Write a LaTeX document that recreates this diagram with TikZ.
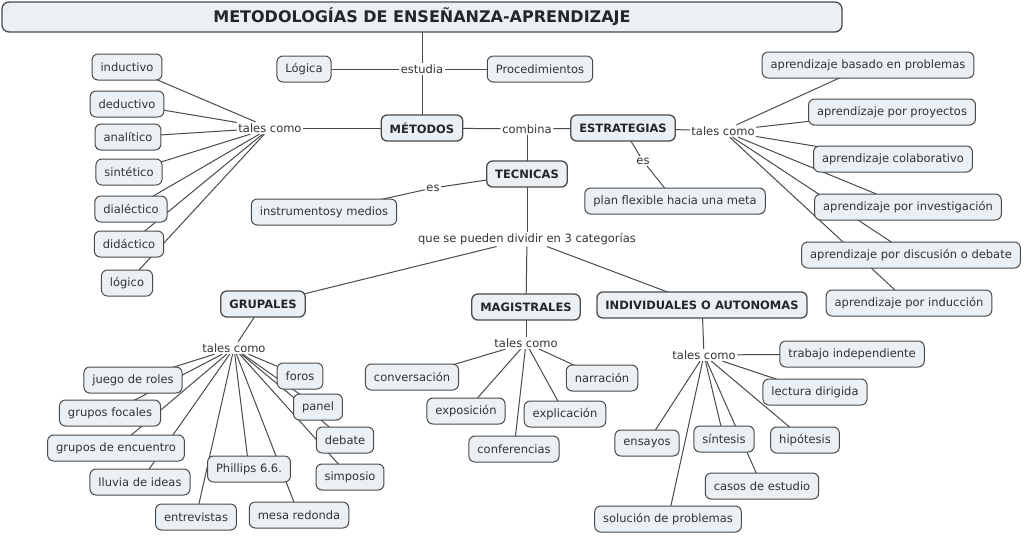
\documentclass[tikz,border=0pt]{standalone}
\usepackage{fontspec}
\setmainfont{DejaVu Sans}
\usetikzlibrary{backgrounds}
\definecolor{nfill}{HTML}{EAF0F4}
\definecolor{nline}{HTML}{4A4A4A}
\definecolor{ntext}{HTML}{333333}
\begin{document}
\begin{tikzpicture}[x=1pt,y=-1pt,
  cpt/.style={draw=nline, fill=nfill, rounded corners=6pt, line width=1pt,
    font=\fontsize{11.5}{13}\selectfont, text=ntext, minimum height=26pt,
    inner xsep=8.5pt, inner ysep=2pt},
  cptb/.style={cpt, font=\fontsize{11.5}{13}\selectfont\bfseries, line width=1.3pt, text=black!85},
  lp/.style={font=\fontsize{11.5}{13}\selectfont, text=ntext, inner sep=1.5pt},
  ln/.style={draw=nline, line width=1pt}]
\useasboundingbox (0,0) rectangle (1024,536);

% ---------- concepts ----------
\node[cptb, minimum width=840pt, minimum height=30pt, rounded corners=7pt,
  font=\fontsize{16}{19}\selectfont\bfseries] (title) at (422,17) {METODOLOGÍAS DE ENSEÑANZA-APRENDIZAJE};
\node[cpt] (logica) at (304,69) {Lógica};
\node[cpt] (proced) at (540,69) {Procedimientos};
\node[cptb] (metodos) at (422,128) {MÉTODOS};
\node[cptb] (estrat) at (623,128) {ESTRATEGIAS};
\node[cptb] (tecnicas) at (527,174) {TECNICAS};
\node[cpt] (instr) at (324,212) {instrumentosy medios};
\node[cpt] (plan) at (675,201) {plan flexible hacia una meta};
\node[cptb] (grupales) at (263,304) {GRUPALES};
\node[cptb] (magis) at (526,307) {MAGISTRALES};
\node[cptb] (indiv) at (702,305) {INDIVIDUALES O AUTONOMAS};

\node[cpt] (ind) at (127,67) {inductivo};
\node[cpt] (ded) at (127,104) {deductivo};
\node[cpt] (ana) at (128,137) {analítico};
\node[cpt] (sin) at (129,172) {sintético};
\node[cpt] (dial) at (131,209) {dialéctico};
\node[cpt] (dida) at (129,244) {didáctico};
\node[cpt] (logico) at (127,283) {lógico};

\node[cpt] (r1) at (868,65) {aprendizaje basado en problemas};
\node[cpt] (r2) at (892,112) {aprendizaje por proyectos};
\node[cpt] (r3) at (893,159) {aprendizaje colaborativo};
\node[cpt] (r4) at (908,207) {aprendizaje por investigación};
\node[cpt] (r5) at (911,255) {aprendizaje por discusión o debate};
\node[cpt] (r6) at (909,303) {aprendizaje por inducción};

\node[cpt] (g1) at (133,380) {juego de roles};
\node[cpt] (g2) at (110,413) {grupos focales};
\node[cpt] (g3) at (116,448) {grupos de encuentro};
\node[cpt] (g4) at (140,482) {lluvia de ideas};
\node[cpt] (g5) at (249,469) {Phillips 6.6.};
\node[cpt] (g6) at (196,517) {entrevistas};
\node[cpt] (g7) at (299,515) {mesa redonda};
\node[cpt] (g8) at (300,376) {foros};
\node[cpt] (g9) at (318,407) {panel};
\node[cpt] (g10) at (345,440) {debate};
\node[cpt] (g11) at (350,477) {simposio};

\node[cpt] (m1) at (412,377) {conversación};
\node[cpt] (m2) at (466,411) {exposición};
\node[cpt] (m3) at (514,449) {conferencias};
\node[cpt] (m4) at (565,414) {explicación};
\node[cpt] (m5) at (602,378) {narración};

\node[cpt] (i1) at (852,354) {trabajo independiente};
\node[cpt] (i2) at (815,392) {lectura dirigida};
\node[cpt] (i3) at (805,440) {hipótesis};
\node[cpt] (i4) at (724,439) {síntesis};
\node[cpt] (i5) at (762,486) {casos de estudio};
\node[cpt] (i6) at (647,443) {ensayos};
\node[cpt] (i7) at (668,519) {solución de problemas};

% ---------- linking phrases ----------
\node[lp] (estudia) at (422,69) {estudia};
\node[lp] (ltc) at (270,128) {tales como};
\node[lp] (combina) at (527,129) {combina};
\node[lp] (rtc) at (723,131) {tales como};
\node[lp] (es1) at (433,188) {es};
\node[lp] (es2) at (643,161) {es};
\node[lp] (que) at (527,239) {que se pueden dividir en 3 categorías};
\node[lp] (gtc) at (234,348) {tales como};
\node[lp] (mtc) at (526,343) {tales como};
\node[lp] (itc) at (704,355) {tales como};

% ---------- connectors ----------
\begin{pgfonlayer}{background}
\draw[ln] (title.center) -- (estudia) -- (metodos.center);
\draw[ln] (logica.center) -- (estudia) -- (proced.center);
\draw[ln] (metodos.center) -- (ltc);
\foreach \n in {ind,ded,ana,sin,dial,dida,logico} \draw[ln] (ltc) -- (\n.center);
\draw[ln] (metodos.center) -- (combina) -- (estrat.center);
\draw[ln] (combina) -- (tecnicas.center);
\draw[ln] (estrat.center) -- (rtc);
\foreach \n in {r1,r2,r3,r4,r5,r6} \draw[ln] (rtc) -- (\n.center);
\draw[ln] (tecnicas.center) -- (es1) -- (instr.center);
\draw[ln] (estrat.center) -- (es2) -- (plan.center);
\draw[ln] (tecnicas.center) -- (que);
\foreach \n in {grupales,magis,indiv} \draw[ln] (que) -- (\n.center);
\draw[ln] (grupales.center) -- (gtc);
\foreach \n in {g1,g2,g3,g4,g5,g6,g7,g8,g9,g10,g11} \draw[ln] (gtc) -- (\n.center);
\draw[ln] (magis.center) -- (mtc);
\foreach \n in {m1,m2,m3,m4,m5} \draw[ln] (mtc) -- (\n.center);
\draw[ln] (indiv.center) -- (itc);
\foreach \n in {i1,i2,i3,i4,i5,i6,i7} \draw[ln] (itc) -- (\n.center);
\end{pgfonlayer}
\end{tikzpicture}
\end{document}
